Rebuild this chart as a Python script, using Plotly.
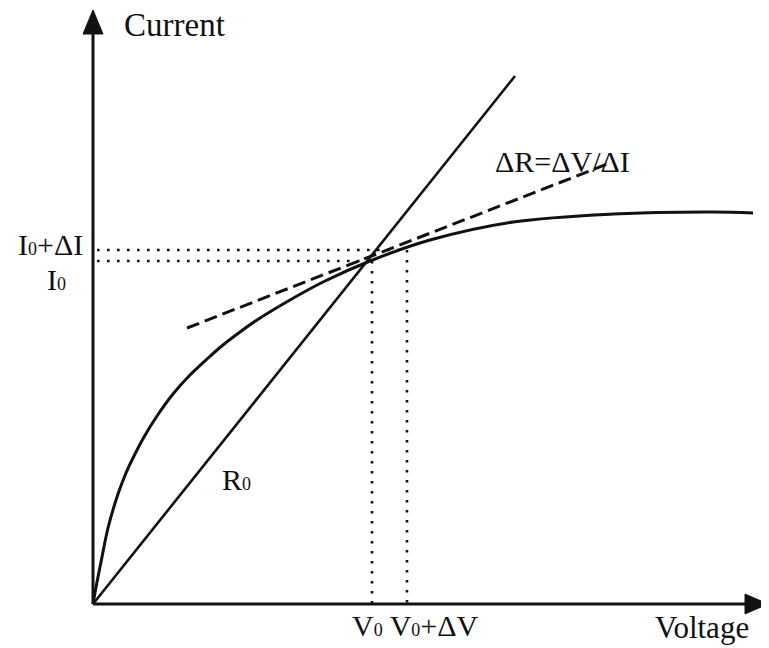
import plotly.graph_objects as go

# I-V curve (voltage, current) in drawing units
curve_v = [0, 4, 9, 15, 25, 33, 40, 51, 64, 80, 97, 114, 130, 147, 164, 197, 230, 277, 337, 420, 520, 620, 660]
curve_i = [0, 22, 47, 76, 110, 131, 146, 167, 188, 210, 229, 245, 259, 272, 284, 304, 322, 343, 364, 382, 390, 392, 391]

# static resistance line R0 through origin
r0_v = [0, 422]
r0_i = [0, 528]

# tangent (dynamic resistance) line
tan_v = [94, 517]
tan_i = [276, 441]

# operating point and increments
V0 = 279
dV = 35
I0 = 343
dI = 11
guide_start = 4

# axes extents
x_axis_end = 655
y_axis_end = 572

FONT = "Liberation Serif"
INK = "#111111"

fig = go.Figure()

fig.add_trace(go.Scatter(x=curve_v, y=curve_i, mode="lines", line_shape="spline",
                         line=dict(color=INK, width=3, smoothing=1), hoverinfo="skip"))
fig.add_trace(go.Scatter(x=r0_v, y=r0_i, mode="lines",
                         line=dict(color=INK, width=2.6), hoverinfo="skip"))
fig.add_trace(go.Scatter(x=tan_v, y=tan_i, mode="lines",
                         line=dict(color=INK, width=3, dash="13px,6px"), hoverinfo="skip"))

dotted = dict(color=INK, width=2.6, dash="2.6px,7.4px")
# horizontal guides
fig.add_trace(go.Scatter(x=[guide_start, V0 + dV], y=[I0 + dI, I0 + dI], mode="lines",
                         line=dotted, hoverinfo="skip"))
fig.add_trace(go.Scatter(x=[guide_start, V0], y=[I0, I0], mode="lines",
                         line=dotted, hoverinfo="skip"))
# vertical guides
fig.add_trace(go.Scatter(x=[V0, V0], y=[I0, 0], mode="lines",
                         line=dotted, hoverinfo="skip"))
fig.add_trace(go.Scatter(x=[V0 + dV, V0 + dV], y=[I0 + dI, 0], mode="lines",
                         line=dotted, hoverinfo="skip"))

# axes with arrow heads
fig.add_shape(type="line", x0=0, y0=0, x1=x_axis_end, y1=0, line=dict(color=INK, width=3))
fig.add_shape(type="line", x0=0, y0=0, x1=0, y1=y_axis_end, line=dict(color=INK, width=3))
fig.add_shape(type="path", path="M -10,570 L 0,594 L 10,570 Z",
              fillcolor=INK, line=dict(color=INK, width=1))
fig.add_shape(type="path", path="M 652,10 L 675,0 L 652,-10 Z",
              fillcolor=INK, line=dict(color=INK, width=1))

sub0 = '<span style="font-size:18px">0</span>'

def label(text, x, y, xanchor="left", size=30):
    fig.add_annotation(x=x, y=y, text=text, showarrow=False, xanchor=xanchor,
                       yanchor="middle", font=dict(family=FONT, size=size, color=INK))

label("Current", 29, 579, size=33)
label("Voltage", 560, -23, size=31)
label("I" + sub0 + "+ΔI", -8, 360, xanchor="right")
label("I" + sub0, -25, 325, xanchor="right")
label("V" + sub0 + " V" + sub0 + "+ΔV", 257, -21)
label("ΔR=ΔV/ΔI", 400, 443)
label("R" + sub0, 127, 125)

# page body has an 8px margin: size and ranges chosen so 1 unit = 1 px
fig.update_layout(
    width=761, height=640,
    margin=dict(l=0, r=0, t=0, b=0),
    paper_bgcolor="white", plot_bgcolor="white",
    showlegend=False,
    xaxis=dict(range=[-85, 676], visible=False, fixedrange=True),
    yaxis=dict(range=[-44, 596], visible=False, fixedrange=True),
)

fig.write_html("out.html")
